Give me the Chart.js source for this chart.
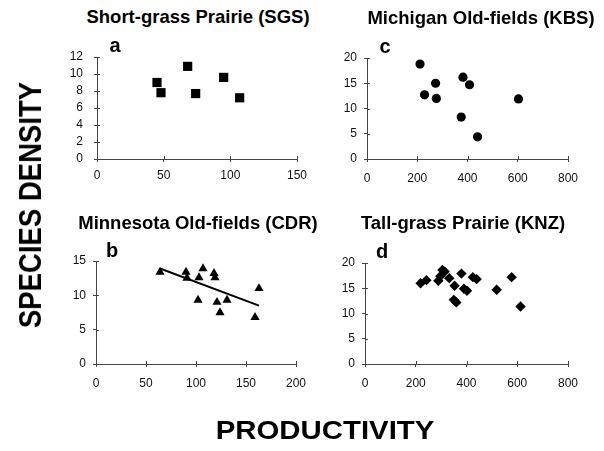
<!DOCTYPE html>
<html>
<head>
<meta charset="utf-8">
<script src="https://cdn.jsdelivr.net/npm/chart.js@4.4.0/dist/chart.umd.min.js"></script>
<style>
html, body { margin: 0; padding: 0; background: #fff; }
#page { position: relative; width: 604px; height: 451px; overflow: hidden; font-family: "Liberation Sans", Arial, sans-serif; color: #000; }
canvas { position: absolute; }
.lbl { position: absolute; white-space: nowrap; line-height: 1; font-weight: bold; transform: translate(-50%, -50%); }
.ttl { font-size: 18.5px; }
.let { font-size: 20px; }
</style>
</head>
<body>
<div id="page">
  <canvas id="sgs"></canvas>
  <canvas id="kbs"></canvas>
  <canvas id="cdr"></canvas>
  <canvas id="knz"></canvas>

  <div class="lbl ttl" style="left:198px;top:17px;">Short-grass Prairie (SGS)</div>
  <div class="lbl ttl" style="left:481px;top:18px;">Michigan Old-fields (KBS)</div>
  <div class="lbl ttl" style="left:198px;top:223px;">Minnesota Old-fields (CDR)</div>
  <div class="lbl ttl" style="left:463px;top:223px;">Tall-grass Prairie (KNZ)</div>

  <div class="lbl let" style="left:115px;top:45px;">a</div>
  <div class="lbl let" style="left:385px;top:46px;">c</div>
  <div class="lbl let" style="left:112px;top:250px;">b</div>
  <div class="lbl let" style="left:382px;top:251px;">d</div>

  <div class="lbl" style="left:30px;top:205px;font-size:32px;transform:translate(-50%,-50%) rotate(-90deg) scaleX(0.86);">SPECIES DENSITY</div>
  <div class="lbl" style="left:325px;top:430px;font-size:26px;transform:translate(-50%,-50%) scaleX(1.13);">PRODUCTIVITY</div>
</div>

<script>
// ---- a: Short-grass Prairie (SGS) ----
const sgsProd = [45, 48, 68, 74, 95, 107];
const sgsDens = [9.0, 7.8, 10.9, 7.7, 9.6, 7.2];

// ---- c: Michigan Old-fields (KBS) ----
const kbsProd = [211, 229, 273, 276, 382, 408, 375, 440, 603];
const kbsDens = [18.8, 12.7, 15.0, 12.0, 16.2, 14.7, 8.3, 4.4, 11.9];

// ---- b: Minnesota Old-fields (CDR) ----
const cdrProd = [64, 90, 91, 107, 103, 118, 119, 102, 121, 131, 124, 159, 163];
const cdrDens = [13.4, 13.4, 12.5, 13.9, 12.6, 13.2, 12.6, 9.3, 9.0, 9.3, 7.5, 6.8, 11.0];
// fitted regression line end points
const cdrFitProd = [64, 163];
const cdrFitDens = [13.9, 8.5];

// ---- d: Tall-grass Prairie (KNZ) ----
const knzProd = [219, 242, 289, 297, 305, 314, 332, 380, 353, 390, 402, 350, 360, 425, 440, 519, 578, 613];
const knzDens = [16.0, 16.6, 16.5, 17.4, 18.6, 18.3, 17.0, 17.9, 15.5, 14.9, 14.5, 12.7, 12.2, 17.2, 16.8, 14.7, 17.2, 11.4];

// axis ranges [max, step]
const sgsX = [150, 50], sgsY = [12, 2];
const kbsX = [800, 200], kbsY = [20, 5];
const cdrX = [200, 50], cdrY = [15, 5];
const knzX = [800, 200], knzY = [20, 5];

function pts(xs, ys) {
    return xs.map((x, i) => ({ x: x, y: ys[i] }));
}

// small inner half of the ticks, so they cross the axis like the original
const crossTicks = {
    id: 'crossTicks',
    afterDraw(chart) {
        const c = chart.ctx, a = chart.chartArea;
        c.save();
        c.strokeStyle = '#444';
        c.lineWidth = 1;
        chart.scales.x.ticks.forEach(t => {
            const px = Math.round(chart.scales.x.getPixelForValue(t.value)) + 0.5;
            c.beginPath(); c.moveTo(px, a.bottom); c.lineTo(px, a.bottom - 3); c.stroke();
        });
        chart.scales.y.ticks.forEach(t => {
            const py = Math.round(chart.scales.y.getPixelForValue(t.value)) + 0.5;
            c.beginPath(); c.moveTo(a.left, py); c.lineTo(a.left + 3, py); c.stroke();
        });
        c.restore();
    }
};

// area = [left, right, top, bottom] of the plot on the page
function panel(id, area, xr, yr, datasets, yPad, xPad) {
    const cv = document.getElementById(id);
    const w = area[1] - area[0] + 90, h = area[3] - area[2] + 90;
    cv.style.left = (area[0] - 60) + 'px';
    cv.style.top = (area[2] - 30) + 'px';
    cv.width = w; cv.height = h;
    cv.style.width = w + 'px'; cv.style.height = h + 'px';

    const tickFont = { family: '"Liberation Sans", Arial, sans-serif', size: 12 };
    return new Chart(cv.getContext('2d'), {
        type: 'scatter',
        data: { datasets: datasets },
        options: {
            responsive: false,
            animation: false,
            layout: { padding: { left: 30, right: 30, top: 30, bottom: 30 } },
            plugins: { legend: { display: false }, tooltip: { enabled: false } },
            scales: {
                x: {
                    type: 'linear', min: 0, max: xr[0],
                    ticks: { stepSize: xr[1], padding: xPad, color: '#111', font: tickFont, maxRotation: 0, autoSkip: false },
                    grid: { drawOnChartArea: false, tickLength: 3, color: '#444' },
                    border: { color: '#444', width: 1 },
                    afterFit: s => { s.height = 30; }
                },
                y: {
                    type: 'linear', min: 0, max: yr[0],
                    ticks: { stepSize: yr[1], padding: yPad, color: '#111', font: tickFont, autoSkip: false },
                    grid: { drawOnChartArea: false, tickLength: 3, color: '#444' },
                    border: { color: '#444', width: 1 },
                    afterFit: s => { s.width = 30; }
                }
            }
        },
        plugins: [crossTicks]
    });
}

function marks(data, style, r) {
    return {
        data: data,
        pointStyle: style,
        pointRadius: r,
        pointBackgroundColor: '#000',
        pointBorderColor: '#000',
        pointBorderWidth: 0
    };
}

panel('sgs', [97, 297, 57, 159], sgsX, sgsY,
    [marks(pts(sgsProd, sgsDens), 'rect', 6.5)], 11, 6);

panel('kbs', [367, 568, 58, 159], kbsX, kbsY,
    [marks(pts(kbsProd, kbsDens), 'circle', 4.6)], 7, 9);

panel('cdr', [96, 296, 261, 364], cdrX, cdrY, [
    {
        type: 'line',
        data: pts(cdrFitProd, cdrFitDens),
        borderColor: '#000',
        borderWidth: 2,
        pointRadius: 0,
        fill: false
    },
    marks(pts(cdrProd, cdrDens), 'triangle', 5.3)
], 7, 9);

panel('knz', [365, 568, 263, 364], knzX, knzY,
    [marks(pts(knzProd, knzDens), 'rectRot', 5.2)], 7, 9);
</script>
</body>
</html>
